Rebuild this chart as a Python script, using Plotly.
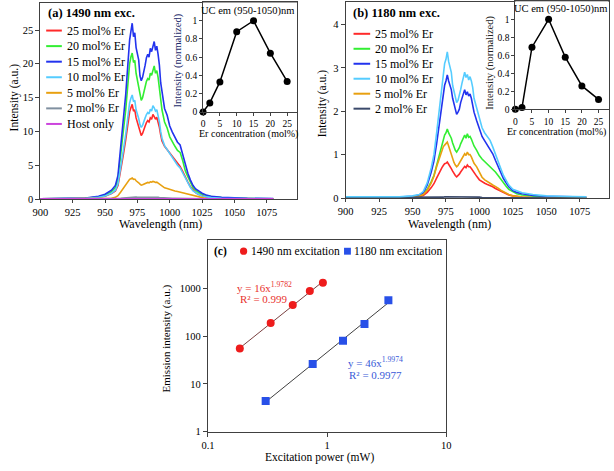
import numpy as np
import plotly.graph_objects as go

W, H = 614, 471
SERIF = "Liberation Serif"
AXC = "#404040"

# ---------------- (a) 1490 nm excitation spectra ----------------
wl_a = [900, 920, 935, 945, 950, 955, 958, 960, 962, 964,
        966, 968, 969, 970, 971, 972, 973, 974, 975, 976,
        977, 978, 979, 980, 981, 982, 983, 984, 985, 986,
        987, 988, 989, 990, 991, 992, 993, 994, 996, 998,
        1000, 1002, 1004, 1006, 1008, 1010, 1012, 1014, 1016, 1018,
        1020, 1022, 1025, 1028, 1032, 1040, 1050, 1060, 1080]

a_25 = [0.02, 0.03, 0.1, 0.25, 0.42, 0.8, 1.2, 2.0, 4.0, 6.4,
        8.8, 11.6, 12.9, 13.5, 14.0, 13.0, 13.2, 12.0, 11.3, 10.6,
        9.8, 9.4, 9.7, 10.4, 10.8, 11.3, 11.6, 11.4, 12.0, 11.8,
        12.5, 12.2, 11.8, 12.1, 11.5, 10.6, 9.5, 8.6, 7.8, 7.3,
        6.7, 6.2, 5.7, 5.2, 4.8, 4.1, 3.2, 2.5, 1.8, 1.3,
        0.95, 0.72, 0.48, 0.32, 0.2, 0.12, 0.08, 0.05, 0.03]
a_20 = [0.02, 0.04, 0.12, 0.32, 0.55, 1.1, 1.7, 3.0, 6.0, 9.8,
        13.2, 18.0, 20.0, 21.0, 21.6, 20.2, 20.5, 18.6, 17.6, 16.5,
        15.2, 14.6, 15.0, 16.0, 16.6, 17.4, 17.8, 17.6, 18.6, 18.3,
        19.1, 19.7, 18.6, 19.0, 18.0, 16.6, 14.6, 13.2, 11.4, 10.5,
        9.2, 8.4, 7.8, 7.2, 6.9, 5.7, 4.2, 3.3, 2.4, 1.7,
        1.3, 1.0, 0.7, 0.5, 0.35, 0.2, 0.12, 0.08, 0.04]
a_15 = [0.02, 0.05, 0.15, 0.4, 0.7, 1.3, 2.0, 3.5, 7.0, 11.5,
        15.5, 21.0, 23.5, 24.8, 26.0, 24.0, 24.6, 22.4, 21.5, 20.6,
        18.2, 17.5, 18.0, 19.2, 19.8, 20.9, 21.4, 21.0, 22.3, 21.8,
        22.6, 23.3, 22.0, 22.6, 21.4, 19.8, 17.2, 15.8, 13.4, 12.4,
        10.8, 9.9, 9.2, 8.4, 8.0, 6.6, 4.9, 3.8, 2.8, 2.0,
        1.5, 1.2, 0.85, 0.6, 0.42, 0.25, 0.15, 0.1, 0.05]
a_10 = [0.02, 0.03, 0.1, 0.25, 0.45, 0.85, 1.3, 2.2, 4.4, 7.0,
        9.6, 12.8, 14.2, 14.9, 15.4, 14.4, 14.6, 13.2, 12.6, 11.9,
        11.0, 10.6, 10.9, 11.6, 12.0, 12.5, 12.8, 12.6, 13.3, 13.0,
        13.8, 13.5, 13.0, 13.2, 12.5, 11.4, 10.0, 9.0, 7.9, 7.3,
        6.6, 6.0, 5.5, 5.0, 4.6, 3.9, 3.0, 2.3, 1.7, 1.2,
        0.9, 0.7, 0.45, 0.3, 0.2, 0.12, 0.08, 0.05, 0.03]
a_5 = [0.0, 0.0, 0.01, 0.02, 0.04, 0.1, 0.25, 0.5, 1.0, 1.6,
       2.2, 2.7, 2.9, 3.0, 3.1, 2.9, 2.95, 2.7, 2.6, 2.4,
       2.2, 2.05, 2.1, 2.2, 2.3, 2.4, 2.45, 2.4, 2.55, 2.5,
       2.6, 2.55, 2.45, 2.5, 2.35, 2.2, 2.0, 1.85, 1.65, 1.55,
       1.4, 1.3, 1.2, 1.1, 1.0, 0.95, 0.85, 0.7, 0.6, 0.5,
       0.4, 0.25, 0.12, 0.06, 0.03, 0.02, 0.01, 0.0, 0.0]
a_2 = [0.01, 0.01, 0.02, 0.03, 0.04, 0.05, 0.07, 0.09, 0.12, 0.16,
       0.2, 0.25, 0.28, 0.3, 0.32, 0.3, 0.31, 0.28, 0.26, 0.24,
       0.22, 0.2, 0.21, 0.23, 0.24, 0.25, 0.26, 0.25, 0.27, 0.26,
       0.28, 0.27, 0.26, 0.26, 0.24, 0.22, 0.2, 0.18, 0.16, 0.14,
       0.12, 0.11, 0.1, 0.09, 0.08, 0.08, 0.07, 0.06, 0.05, 0.04,
       0.03, 0.03, 0.02, 0.02, 0.01, 0.01, 0.01, 0.01, 0.01]
a_host = [0.04, 0.05, 0.04, 0.05, 0.04, 0.05, 0.05, 0.04, 0.05, 0.06,
          0.05, 0.06, 0.06, 0.05, 0.07, 0.06, 0.05, 0.06, 0.05, 0.06,
          0.05, 0.05, 0.06, 0.05, 0.06, 0.05, 0.06, 0.05, 0.06, 0.05,
          0.06, 0.05, 0.05, 0.06, 0.05, 0.05, 0.06, 0.05, 0.05, 0.04,
          0.05, 0.04, 0.05, 0.04, 0.05, 0.04, 0.04, 0.05, 0.04, 0.04,
          0.05, 0.04, 0.04, 0.05, 0.04, 0.04, 0.05, 0.04, 0.04]

# ---------------- (b) 1180 nm excitation spectra ----------------
wl_b = [900, 920, 940, 950, 955, 958, 961, 964, 966, 968,
        970, 971, 972, 973, 974, 975, 976, 977, 978, 979,
        980, 981, 982, 983, 984, 985, 986, 987, 988, 989,
        990, 991, 992, 993, 994, 995, 996, 998, 1000, 1002,
        1004, 1006, 1008, 1010, 1012, 1014, 1016, 1018, 1020, 1022,
        1025, 1028, 1032, 1040, 1050, 1060, 1080]

b_25 = [0.0, 0.0, 0.01, 0.02, 0.03, 0.06, 0.13, 0.24, 0.33, 0.46,
        0.6, 0.66, 0.7, 0.75, 0.79, 0.8, 0.83, 0.78, 0.74, 0.68,
        0.62, 0.56, 0.52, 0.49, 0.51, 0.55, 0.6, 0.65, 0.7, 0.73,
        0.7, 0.76, 0.72, 0.72, 0.68, 0.63, 0.57, 0.5, 0.42, 0.37,
        0.34, 0.31, 0.29, 0.26, 0.22, 0.19, 0.15, 0.12, 0.09, 0.07,
        0.05, 0.03, 0.02, 0.01, 0.0, 0.0, 0.0]
b_20 = [0.01, 0.01, 0.02, 0.03, 0.05, 0.09, 0.2, 0.38, 0.52, 0.75,
        1.0, 1.12, 1.22, 1.35, 1.45, 1.5, 1.59, 1.5, 1.45, 1.38,
        1.27, 1.18, 1.1, 1.06, 1.1, 1.16, 1.25, 1.32, 1.4, 1.45,
        1.38, 1.48, 1.4, 1.42, 1.36, 1.28, 1.2, 1.1, 0.98, 0.9,
        0.84, 0.78, 0.74, 0.68, 0.6, 0.52, 0.43, 0.35, 0.27, 0.2,
        0.14, 0.1, 0.07, 0.04, 0.03, 0.02, 0.01]
b_15 = [0.01, 0.01, 0.02, 0.04, 0.07, 0.12, 0.3, 0.6, 0.85, 1.25,
        1.7, 1.95, 2.15, 2.4, 2.6, 2.7, 2.84, 2.7, 2.62, 2.5,
        2.3, 2.15, 2.0, 1.93, 1.98, 2.05, 2.2, 2.32, 2.42, 2.5,
        2.38, 2.45, 2.35, 2.4, 2.3, 2.15, 1.98, 1.78, 1.58, 1.42,
        1.32, 1.22, 1.15, 1.02, 0.87, 0.72, 0.58, 0.45, 0.35, 0.26,
        0.17, 0.13, 0.1, 0.06, 0.04, 0.03, 0.02]
b_10 = [0.03, 0.03, 0.03, 0.05, 0.08, 0.15, 0.35, 0.7, 1.0, 1.5,
        2.0, 2.3, 2.5, 2.85, 3.1, 3.2, 3.37, 3.15, 3.05, 2.9,
        2.6, 2.45, 2.3, 2.2, 2.25, 2.35, 2.5, 2.65, 2.8, 2.9,
        2.78, 2.85, 2.72, 2.8, 2.7, 2.55, 2.3, 2.05, 1.8, 1.62,
        1.5, 1.4, 1.33, 1.18, 1.0, 0.85, 0.68, 0.52, 0.4, 0.3,
        0.2, 0.16, 0.12, 0.08, 0.05, 0.04, 0.03]
b_5 = [0.0, 0.0, 0.01, 0.02, 0.04, 0.08, 0.18, 0.35, 0.5, 0.72,
       0.92, 1.02, 1.1, 1.18, 1.22, 1.25, 1.29, 1.2, 1.1, 1.0,
       0.9, 0.82, 0.76, 0.72, 0.75, 0.8, 0.86, 0.92, 0.98, 1.02,
       0.98, 1.06, 1.0, 1.0, 0.95, 0.88, 0.8, 0.72, 0.6, 0.48,
       0.42, 0.37, 0.34, 0.3, 0.27, 0.23, 0.18, 0.14, 0.1, 0.08,
       0.05, 0.03, 0.02, 0.01, 0.0, 0.0, 0.0]
b_2 = [0.01, 0.01, 0.01, 0.01, 0.01, 0.01, 0.01, 0.02, 0.02, 0.02,
       0.02, 0.02, 0.02, 0.02, 0.03, 0.03, 0.03, 0.03, 0.02, 0.02,
       0.02, 0.02, 0.02, 0.02, 0.02, 0.02, 0.02, 0.02, 0.02, 0.02,
       0.02, 0.02, 0.02, 0.02, 0.02, 0.02, 0.02, 0.02, 0.02, 0.01,
       0.01, 0.01, 0.01, 0.01, 0.01, 0.01, 0.01, 0.01, 0.01, 0.01,
       0.01, 0.01, 0.0, 0.0, 0.0, 0.0, 0.0]

# ---------------- insets: UC em (950-1050) nm ----------------
conc = [0, 2, 5, 10, 15, 20, 25]
norm_a = [0, 0.1, 0.33, 0.88, 1.0, 0.645, 0.335]
norm_b = [0, 0.02, 0.69, 1.0, 0.58, 0.26, 0.11]

# ---------------- (c) power dependence ----------------
p_1490 = [0.185, 0.336, 0.515, 0.716, 0.922]
i_1490 = [55, 187, 445, 876, 1297]
p_1180 = [0.305, 0.757, 1.36, 2.06, 3.27]
i_1180 = [4.4, 26, 80, 178, 564]

labels_a = ["25 mol% Er", "20 mol% Er", "15 mol% Er", "10 mol% Er",
            "5 mol% Er", "2 mol% Er", "Host only"]
labels_b = labels_a[:6]
colors_a = ["#ff2a2a", "#33ee33", "#2233ee", "#55ccff", "#e8a010", "#8090a0", "#cc44dd"]
colors_b = ["#ff2a2a", "#33ee33", "#2233ee", "#55ccff", "#e8a010", "#3b4a6b"]


def px(x):
    return x / W


def py(y):
    return 1 - y / H


fig = go.Figure()

for ys, c, name in zip([a_25, a_20, a_15, a_10, a_5, a_2, a_host], colors_a, labels_a):
    fig.add_trace(go.Scatter(x=wl_a, y=ys, mode="lines", line=dict(color=c, width=1.6),
                             name=name, xaxis="x", yaxis="y"))
# cyan (10 mol%) drawn last so it sits on top, as in the original
for ys, c, name in zip([b_25, b_20, b_15, b_5, b_2, b_10], [colors_b[i] for i in (0, 1, 2, 4, 5, 3)],
                       [labels_b[i] for i in (0, 1, 2, 4, 5, 3)]):
    fig.add_trace(go.Scatter(x=wl_b, y=ys, mode="lines", line=dict(color=c, width=1.6),
                             name=name, xaxis="x3", yaxis="y3"))

fig.add_trace(go.Scatter(x=conc, y=norm_a, mode="lines+markers", cliponaxis=False,
                         line=dict(color="black", width=1.5), marker=dict(color="black", size=7),
                         xaxis="x2", yaxis="y2"))
fig.add_trace(go.Scatter(x=conc, y=norm_b, mode="lines+markers", cliponaxis=False,
                         line=dict(color="black", width=1.5), marker=dict(color="black", size=7),
                         xaxis="x4", yaxis="y4"))

# power-law trend lines fitted to the points
for pw, iv, lc in [(p_1490, i_1490, "#7a4040"), (p_1180, i_1180, "#404040")]:
    k, b0 = np.polyfit(np.log10(pw), np.log10(iv), 1)
    xs = np.array([min(pw), max(pw)])
    fig.add_trace(go.Scatter(x=xs, y=10 ** (b0 + k * np.log10(xs)), mode="lines",
                             line=dict(color=lc, width=1), xaxis="x5", yaxis="y5"))
fig.add_trace(go.Scatter(x=p_1490, y=i_1490, mode="markers",
                         marker=dict(color="#ee1c1c", size=8, symbol="circle"),
                         xaxis="x5", yaxis="y5"))
fig.add_trace(go.Scatter(x=p_1180, y=i_1180, mode="markers",
                         marker=dict(color="#2850e8", size=8, symbol="square"),
                         xaxis="x5", yaxis="y5"))


def ax(domain, rng, tickvals, ticktext=None, size=10.5, anchor=None, typ="linear", ticklen=4):
    d = dict(domain=domain, range=rng, tickvals=tickvals, showline=True, mirror=True,
             linecolor=AXC, linewidth=1, ticks="outside", ticklen=ticklen, tickcolor=AXC,
             showgrid=False, zeroline=False, type=typ, fixedrange=True,
             tickfont=dict(family=SERIF, size=size, color="black"))
    if ticktext is not None:
        d["ticktext"] = ticktext
    if anchor:
        d["anchor"] = anchor
    return d


ins_y = ["0", "0.2", "0.4", "0.6", "0.8", "1"]
fig.update_layout(
    width=W, height=H, autosize=False, showlegend=False,
    margin=dict(l=0, r=0, t=0, b=0),
    font=dict(family=SERIF),
    paper_bgcolor="white", plot_bgcolor="white",
    xaxis=ax([px(33), px(295.5)], [900, 1098.5], list(range(900, 1100, 25)), anchor="y",
             ticklen=3),
    yaxis=ax([py(201), py(2)], [0, 29], [0, 5, 10, 15, 20, 25], anchor="x"),
    xaxis2=ax([px(199.3), px(295.5)], [0, 28], [0, 5, 10, 15, 20, 25], size=9.5,
              anchor="y2", ticklen=3),
    yaxis2=ax([py(112.7), py(1.5)], [0, 1.2], [0, 0.2, 0.4, 0.6, 0.8, 1], ins_y, size=9.5,
              anchor="x2", ticklen=3),
    xaxis3=ax([px(345), px(613.5)], [900, 1096.6], list(range(900, 1100, 25)), anchor="y3",
              ticklen=3),
    yaxis3=ax([py(200), py(1.5)], [0, 4.51], [0, 1, 2, 3, 4], anchor="x3"),
    xaxis4=ax([px(518.3), px(613.5)], [0, 28], [0, 5, 10, 15, 20, 25], size=9.5,
              anchor="y4", ticklen=3),
    yaxis4=ax([py(110), py(0.3)], [0, 1.2], [0, 0.2, 0.4, 0.6, 0.8, 1], ins_y, size=9.5,
              anchor="x4", ticklen=3),
    xaxis5=ax([px(204.3), px(447.7)], [-1, 1], [0.1, 1, 10], ["0.1", "1", "10"],
              anchor="y5", typ="log"),
    yaxis5=ax([py(437.3), py(243)], [0, 4], [1, 10, 100, 1000], ["1", "10", "100", "1000"],
              anchor="x5", typ="log"),
)

ann = []
shapes = []


def text(x, y, t, size=12, color="black", anchor="left", angle=0, bold=False):
    if bold:
        t = "<b>" + t + "</b>"
    ann.append(dict(x=px(x), y=py(y), xref="paper", yref="paper", text=t, showarrow=False,
                    xanchor=anchor, yanchor="middle", textangle=angle,
                    font=dict(family=SERIF, size=size, color=color)))


# panel titles and legends
text(39, 12, "(a) 1490 nm exc.", 12.5, bold=True)
for i, (name, c) in enumerate(zip(labels_a, colors_a)):
    y = 30 + i * 15.8
    shapes.append(dict(type="line", xref="paper", yref="paper", x0=px(39), x1=px(55),
                       y0=py(y), y1=py(y), line=dict(color=c, width=2)))
    text(58, y, name, 12)

text(350, 12, "(b) 1180 nm exc.", 12.5, bold=True)
for i, (name, c) in enumerate(zip(labels_b, colors_b)):
    y = 33.3 + i * 15.2
    shapes.append(dict(type="line", xref="paper", yref="paper", x0=px(353), x1=px(370),
                       y0=py(y), y1=py(y), line=dict(color=c, width=2)))
    text(373, y, name, 12)

# axis titles
text(7, 98, "Intensity (a.u.)", 11.5, anchor="center", angle=-90)
text(156, 226, "Wavelength (nm)", 12, anchor="center")
text(321.7, 104, "Intensity (a.u.)", 11.5, anchor="center", angle=-90)
text(451, 226.5, "Wavelength (nm)", 12, anchor="center")

# inset labels
text(245, 10, "UC em (950-1050)nm", 10.5, anchor="center")
text(174, 60, "Intensity (normalized)", 10.5, color="#1c2a6a", anchor="center", angle=-90)
text(246, 134.5, "Er concentration (mol%)", 10, anchor="center")
text(564, 8.5, "UC em (950-1050)nm", 10.5, anchor="center")
text(493, 63, "Intensity (normalized)", 10.5, color="#222222", anchor="center", angle=-90)
text(560, 132.5, "Er concentration (mol%)", 10, anchor="center")

# panel (c)
text(208, 254, "(c)", 11.5, bold=True)
shapes.append(dict(type="circle", xref="paper", yref="paper", x0=px(237), x1=px(244.4),
                   y0=py(257.7), y1=py(250.3), fillcolor="#ee1c1c", line=dict(width=0)))
text(246.5, 254, "1490 nm excitation", 11.5)
shapes.append(dict(type="rect", xref="paper", yref="paper", x0=px(343.3), x1=px(350.3),
                   y0=py(257.5), y1=py(250.5), fillcolor="#2850e8", line=dict(width=0)))
text(351.7, 254, "1180 nm excitation", 11.5)
text(231.5, 290.5, "y = 16x<sup>1.9782</sup>", 11, color="#e8322e")
text(235, 303, "R² = 0.999", 11, color="#e8322e")
text(345, 366, "y = 46x<sup>1.9974</sup>", 11, color="#3a5ad8")
text(346, 380, "R² = 0.9977", 11, color="#3a5ad8")
text(162, 343, "Emission intensity (a.u.)", 11, anchor="center", angle=-90)
text(318, 463, "Excitation power (mW)", 11.5, anchor="center")

fig.update_layout(annotations=ann, shapes=shapes)
# page body has a default 8px margin; remove it so the figure fills the window exactly
fig.write_html("out.html", config={"displayModeBar": False},
               post_script="document.body.style.margin='0';")
